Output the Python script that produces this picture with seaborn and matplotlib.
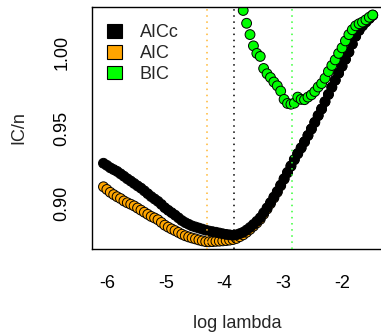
import numpy as np
import pandas as pd
import matplotlib
matplotlib.use("Agg")
import matplotlib.pyplot as plt
from matplotlib.patches import Patch
import seaborn as sns

# ---------------- data ----------------
log_lambda = [-6.060, -6.002, -5.944, -5.886, -5.828, -5.770, -5.712, -5.654, -5.596, -5.538,
              -5.480, -5.422, -5.364, -5.306, -5.248, -5.190, -5.132, -5.074, -5.016, -4.958,
              -4.900, -4.842, -4.784, -4.726, -4.668, -4.610, -4.552, -4.494, -4.436, -4.378,
              -4.320, -4.262, -4.204, -4.146, -4.088, -4.030, -3.972, -3.914, -3.856, -3.798,
              -3.740, -3.682, -3.624, -3.566, -3.508, -3.450, -3.392, -3.334, -3.276, -3.218,
              -3.160, -3.102, -3.044, -2.986, -2.928, -2.870, -2.812, -2.754, -2.696, -2.638,
              -2.580, -2.522, -2.464, -2.406, -2.348, -2.290, -2.232, -2.174, -2.116, -2.058,
              -2.000, -1.942, -1.884, -1.826, -1.768, -1.710, -1.652, -1.594, -1.536, -1.478]

aicc = [0.9266, 0.9252, 0.9236, 0.9224, 0.9212, 0.9196, 0.9180, 0.9163, 0.9148, 0.9132,
        0.9116, 0.9101, 0.9083, 0.9064, 0.9045, 0.9029, 0.9013, 0.8993, 0.8971, 0.8954,
        0.8938, 0.8922, 0.8904, 0.8886, 0.8872, 0.8861, 0.8850, 0.8843, 0.8836, 0.8829,
        0.8822, 0.8816, 0.8812, 0.8808, 0.8803, 0.8798, 0.8794, 0.8791, 0.8788, 0.8791,
        0.8799, 0.8808, 0.8823, 0.8840, 0.8860, 0.8881, 0.8904, 0.8937, 0.8970, 0.9005,
        0.9042, 0.9079, 0.9121, 0.9164, 0.9206, 0.9249, 0.9291, 0.9331, 0.9369, 0.9409,
        0.9451, 0.9494, 0.9538, 0.9583, 0.9627, 0.9675, 0.9723, 0.9771, 0.9817, 0.9864,
        0.9910, 0.9956, 1.0004, 1.0057, 1.0109, 1.0148, 1.0179, 1.0204, 1.0227, 1.0248]

aic = [0.9110, 0.9092, 0.9073, 0.9058, 0.9044, 0.9032, 0.9016, 0.9004, 0.8994, 0.8983,
       0.8969, 0.8955, 0.8941, 0.8927, 0.8913, 0.8903, 0.8891, 0.8873, 0.8855, 0.8842,
       0.8830, 0.8819, 0.8807, 0.8795, 0.8785, 0.8777, 0.8770, 0.8764, 0.8757, 0.8751,
       0.8746, 0.8745, 0.8746, 0.8748, 0.8749, 0.8751, 0.8753, 0.8756, 0.8760, 0.8767,
       0.8779, 0.8791, 0.8808, 0.8827, 0.8848, 0.8870, 0.8894, 0.8928, 0.8962, 0.8998,
       0.9036, 0.9074, 0.9117, 0.9160, 0.9203, 0.9246, 0.9289, 0.9329, 0.9367, 0.9408,
       0.9450, 0.9493, 0.9537, 0.9582, 0.9626, 0.9674, 0.9722, 0.9770, 0.9817, 0.9864,
       0.9910, 0.9956, 1.0004, 1.0057, 1.0109, 1.0148, 1.0179, 1.0204, 1.0227, 1.0248]

bic = [1.310, 1.303, 1.296, 1.289, 1.282, 1.275, 1.268, 1.261, 1.254, 1.247,
       1.240, 1.233, 1.226, 1.219, 1.212, 1.205, 1.198, 1.191, 1.184, 1.177,
       1.170, 1.163, 1.156, 1.149, 1.142, 1.135, 1.128, 1.121, 1.114, 1.107,
       1.100, 1.093, 1.086, 1.079, 1.072, 1.065, 1.058, 1.051, 1.045, 1.040,
       1.0350, 1.0280, 1.0195, 1.0120, 1.0045, 0.9995, 0.9975, 0.9895, 0.9860, 0.9835,
       0.9805, 0.9780, 0.9745, 0.9690, 0.9663, 0.9658, 0.9665, 0.9705, 0.9690, 0.9688,
       0.9705, 0.9720, 0.9742, 0.9772, 0.9795, 0.9830, 0.9875, 0.9915, 0.9952, 0.9995,
       1.0032, 1.0078, 1.0120, 1.0152, 1.0178, 1.0192, 1.0203, 1.0218, 1.0235, 1.0250]

criteria = ["AICc", "AIC", "BIC"]
colors = {"AICc": "#000000", "AIC": "#FFA500", "BIC": "#00FF00"}
selected = {"AIC": -4.294, "AICc": -3.835, "BIC": -2.854}
vline_colors = {"AIC": "#FFB733", "AICc": "#000000", "BIC": "#33FF33"}
x_ticks = [-6, -5, -4, -3, -2]
y_ticks = [0.90, 0.95, 1.00]
y_ticklabels = ["0.90", "0.95", "1.00"]

# draw order: AIC underneath, AICc, then BIC on top
df = pd.concat([
    pd.DataFrame({"log_lambda": log_lambda, "IC": aic, "crit": "AIC"}),
    pd.DataFrame({"log_lambda": log_lambda, "IC": aicc, "crit": "AICc"}),
    pd.DataFrame({"log_lambda": log_lambda, "IC": bic, "crit": "BIC"}),
], ignore_index=True)

# ---------------- figure ----------------
sns.set_theme(style="white")
plt.rcParams["font.family"] = ["Liberation Sans", "DejaVu Sans"]

W, H = 381, 336
fig = plt.figure(figsize=(W / 100, H / 100), dpi=100)
ax = fig.add_axes([92 / W, (H - 249) / H, (383 - 92) / W, (249 - 7) / H])

sns.scatterplot(data=df, x="log_lambda", y="IC", hue="crit", palette=colors,
                s=50, edgecolor="black", linewidth=0.7, legend=False, ax=ax, zorder=2)

for c in ["AIC", "AICc", "BIC"]:
    ax.axvline(selected[c], color=vline_colors[c], linestyle=(0, (1, 3)), lw=1.1, zorder=3)

ax.set_xlim(-6.255, -1.303)
ax.set_ylim(0.8697, 1.0303)
ax.set_xticks(x_ticks)
ax.set_xticklabels([str(t) for t in x_ticks])
ax.set_yticks(y_ticks)
ax.set_yticklabels(y_ticklabels, rotation=90, va="center")

for s in ax.spines.values():
    s.set_color("black")
    s.set_linewidth(1.0)

ax.tick_params(axis="both", which="major", direction="out", length=7.5, width=0.8,
               color="#333333", labelsize=13, labelcolor="black")
ax.tick_params(axis="x", pad=11)
ax.tick_params(axis="y", pad=8)

ax.set_xlabel("log lambda", fontsize=13, labelpad=17)
ax.set_ylabel("IC/n", fontsize=13, labelpad=19)

handles = [Patch(facecolor=colors[c], edgecolor="black", linewidth=0.8) for c in criteria]
ax.legend(handles, criteria, loc="upper left", bbox_to_anchor=(0.052, 0.93),
          frameon=False, fontsize=13, handlelength=0.8, handleheight=0.8,
          handletextpad=1.0, labelspacing=0.2, borderpad=0, borderaxespad=0)

fig.savefig("out.png", dpi=100)
